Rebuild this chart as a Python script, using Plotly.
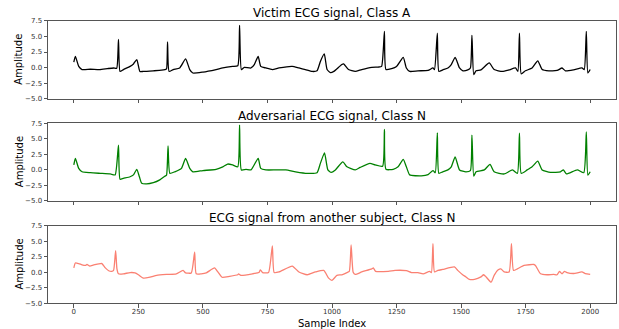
import plotly.graph_objects as go

# Victim ECG (Class A) - key points
victim_x = [0, 6, 19, 32, 64, 100, 130, 154, 166, 173, 179, 192, 218, 231, 244, 256, 269, 308, 340, 353, 359, 363, 369, 385,
            410, 433, 449, 461, 500, 551, 577, 615, 635, 642, 649, 660, 686, 699, 714, 724, 744, 769, 795, 846, 872, 897,
            923, 942, 955, 970, 981, 994, 1007, 1038, 1045, 1064, 1090, 1115, 1154, 1179, 1192, 1203, 1209, 1231, 1250,
            1276, 1288, 1301, 1333, 1372, 1391, 1397, 1408, 1414, 1429, 1449, 1462, 1477, 1494, 1507, 1526, 1536, 1542,
            1549, 1558, 1577, 1609, 1628, 1660, 1686, 1711, 1720, 1726, 1733, 1749, 1775, 1797, 1814, 1840, 1872, 1891,
            1904, 1936, 1968, 1977, 1985, 1991, 2000]
victim_y = [0.9, 1.8, 0.2, -0.3, -0.25, -0.3, -0.15, -0.05, -0.1, 4.5, -0.6, -0.3, 0.2, 0.6, 1.3, -0.6, -0.6, -0.5, -0.4,
            -0.3, -0.2, 4.1, -0.6, -0.3, -0.05, 1.4, -0.3, -0.85, -0.7, -0.3, -0.05, 0.2, 0.3, 6.75, -0.3, 0.05, -0.05,
            0.5, 1.8, 0.2, -0.05, -0.3, -0.05, 0.2, -0.05, -0.3, -0.6, -0.5, 1.0, 2.2, -0.3, -0.8, -0.6, 0.5, 0.6, -0.3,
            -0.6, -0.3, 0.05, 0.1, 0.2, 5.8, -0.3, -0.15, 0.2, 1.65, -0.05, -0.6, -0.5, -0.45, -0.05, -0.3, 5.5, -0.6,
            -0.35, -0.05, 0.5, 1.65, -0.05, -0.5, -0.35, -0.05, 5.15, -1.1, -0.5, -0.35, 0.75, -0.3, -0.6, -0.35, -0.05,
            -0.6, 5.5, -1.0, -0.5, -0.05, 1.1, -0.3, -0.5, -0.45, -0.05, -0.5, -0.35, -0.05, -0.3, 5.8, -0.85, -0.3]

# Adversarial ECG (Class N)
adv_x = [0, 6, 19, 32, 64, 103, 141, 160, 173, 179, 192, 218, 231, 244, 254, 263, 282, 308, 333, 353, 359, 365, 372, 391,
         417, 433, 449, 461, 500, 551, 577, 596, 615, 635, 642, 649, 667, 686, 714, 724, 744, 782, 821, 859, 904, 942,
         955, 971, 984, 997, 1013, 1042, 1058, 1090, 1109, 1147, 1167, 1196, 1203, 1209, 1237, 1256, 1276, 1288, 1301,
         1346, 1372, 1391, 1400, 1408, 1414, 1429, 1449, 1462, 1477, 1494, 1519, 1536, 1542, 1549, 1558, 1590, 1612,
         1628, 1667, 1699, 1718, 1726, 1733, 1756, 1775, 1797, 1814, 1846, 1885, 1896, 1908, 1950, 1975, 1985, 1991,
         2000]
adv_y = [0.8, 1.85, 0.25, -0.3, -0.45, -0.55, -0.65, -0.8, 4.0, -1.5, -1.35, -1.1, -0.8, 0.1, -1.1, -2.15, -2.25, -2.05,
         -1.6, -1.0, -0.85, 3.85, -0.55, -0.3, 0.25, 1.85, 0.25, -0.3, -0.1, 0.1, 0.5, 0.95, 0.8, 0.5, 7.2, 0.0, 0.1,
         0.0, 1.85, 0.25, 0.0, 0.0, 0.0, -0.3, -0.55, -0.45, 1.05, 2.75, 0.0, -0.4, 0.0, 1.3, 0.5, 0.0, 0.4, 1.05, 0.8,
         0.6, 6.5, 0.1, 0.1, 0.5, 1.7, 0.5, -0.8, -0.95, -0.75, -0.1, -0.45, 5.95, -0.55, -0.3, 0.0, 0.5, 2.1, 0.0,
         -0.3, -0.1, 5.6, -1.0, -0.3, 0.0, 0.9, -0.3, -0.65, 0.0, -0.55, 5.9, -0.55, 0.0, 0.5, 1.4, 0.0, -0.4, -0.3,
         0.0, -0.65, 0.0, -0.45, 6.1, -0.85, -0.3]

# ECG from another subject (Class N)
other_x = [0, 6, 19, 32, 45, 51, 62, 77, 103, 109, 122, 135, 147, 154, 162, 167, 173, 192, 218, 237, 250, 269, 295, 321,
           359, 397, 423, 433, 455, 468, 474, 494, 513, 545, 558, 574, 603, 635, 638, 647, 692, 718, 722, 731, 754, 769,
           776, 795, 846, 872, 904, 936, 968, 987, 1000, 1019, 1038, 1058, 1067, 1074, 1082, 1090, 1115, 1154, 1160,
           1169, 1218, 1244, 1288, 1308, 1333, 1353, 1378, 1385, 1391, 1397, 1410, 1429, 1474, 1487, 1506, 1519, 1532,
           1552, 1577, 1587, 1597, 1616, 1628, 1644, 1654, 1667, 1686, 1695, 1703, 1718, 1744, 1782, 1788, 1808, 1833,
           1859, 1872, 1881, 1891, 1900, 1910, 1936, 1968, 1981, 2000]
other_y = [0.7, 1.5, 1.4, 1.2, 1.1, 1.25, 1.0, 1.2, 1.4, 1.4, 0.7, 0.25, 0.15, 0.3, 3.5, 0.55, -0.25, -0.25, -0.05,
           -0.1, -0.4, -0.95, -0.8, -0.5, -0.35, -0.25, 0.3, -0.1, -0.1, 3.25, -0.25, -0.25, -0.1, 0.7, 0.05, -0.8,
           -0.65, -0.4, -0.25, -0.5, -0.25, 0.0, 0.4, -0.05, -0.05, 4.25, -0.05, 0.05, 1.0, 0.05, -0.4, 0.05, 0.3,
           -0.95, -1.3, -0.5, -0.4, -0.05, 0.15, 4.4, 0.0, -0.35, 0.05, 0.55, 0.7, 0.15, 0.15, 0.3, 0.25, -0.05, -0.05,
           -0.25, 0.15, -0.05, 4.6, 0.05, 0.3, 0.45, 0.85, 0.3, -0.4, -0.75, -1.15, -1.15, -0.75, -0.4, -0.75, -1.6,
           -0.5, 0.4, 0.55, 0.05, 0.05, 4.6, 0.3, 0.55, 1.1, 1.25, 1.1, -0.25, -0.4, -0.35, -0.4, 0.15, -0.25, 0.15,
           -0.05, -0.2, 0.05, -0.2, -0.35]

titles = ["Victim ECG signal, Class A", "Adversarial ECG signal, Class N", "ECG signal from another subject, Class N"]
x_ticks = [0, 250, 500, 750, 1000, 1250, 1500, 1750, 2000]
y_ticks = [-5.0, -2.5, 0.0, 2.5, 5.0, 7.5]
y_tick_text = ["\u22125.0", "\u22122.5", "0.0", "2.5", "5.0", "7.5"]

series = [(victim_x, victim_y, "black"), (adv_x, adv_y, "green"), (other_x, other_y, "salmon")]
domains = [[0.712, 0.9654], [0.3819, 0.6333], [0.0508, 0.3019]]

FONT = "DejaVu Sans"
fig = go.Figure()
for i, (xs, ys, col) in enumerate(series):
    n = "" if i == 0 else str(i + 1)
    fig.add_trace(go.Scatter(x=xs, y=ys, mode="lines",
                             line=dict(color=col, width=1.3, shape="spline", smoothing=0.5),
                             xaxis="x" + n, yaxis="y" + n, showlegend=False))
    axis_common = dict(showline=True, mirror=True, linecolor="#555", linewidth=1, showgrid=False,
                       zeroline=False, ticks="outside", ticklen=3.5, tickcolor="#555", tickwidth=1,
                       automargin=False, tickfont=dict(family=FONT, size=7, color="#333"))
    fig.layout["xaxis" + n] = dict(axis_common, domain=[0, 1], anchor="y" + n, range=[-100, 2100],
                                   tickvals=x_ticks, showticklabels=(i == 2), ticklabelstandoff=-2)
    fig.layout["yaxis" + n] = dict(axis_common, domain=domains[i], anchor="x" + n, range=[-5, 7.5],
                                   tickvals=y_ticks, ticktext=y_tick_text)
    top = domains[i][1]
    fig.add_annotation(text=titles[i], xref="paper", yref="paper", x=0.5, y=top - 0.004,
                       xanchor="center", yanchor="bottom", showarrow=False,
                       font=dict(family=FONT, size=12, color="black"))
    fig.add_annotation(text="Amplitude", xref="paper", yref="paper", x=-0.051,
                       y=(domains[i][0] + domains[i][1]) / 2, textangle=-90,
                       xanchor="center", yanchor="middle", showarrow=False,
                       font=dict(family=FONT, size=10, color="black"))

fig.add_annotation(text="Sample Index", xref="paper", yref="paper", x=0.5, y=-0.013,
                   xanchor="center", yanchor="middle", showarrow=False,
                   font=dict(family=FONT, size=10, color="black"))

fig.update_layout(width=619, height=329, margin=dict(l=48, r=3, t=10, b=10, autoexpand=False),
                  plot_bgcolor="white", paper_bgcolor="white")
fig.write_html("out.html", config={"displayModeBar": False},
               post_script="document.body.style.margin='0';document.body.style.overflow='hidden';")
